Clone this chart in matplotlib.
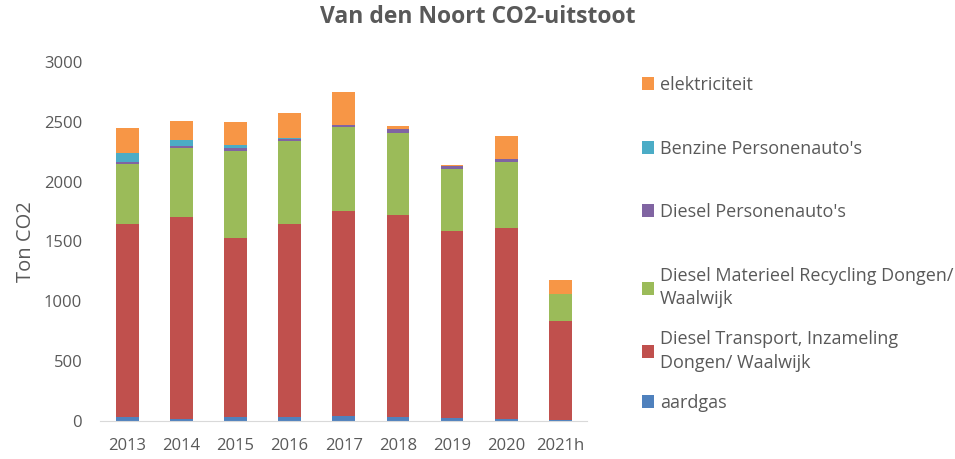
import numpy as np
import matplotlib.pyplot as plt

plt.rcParams['font.family'] = ['Open Sans', 'DejaVu Sans']

years = ['2013', '2014', '2015', '2016', '2017', '2018', '2019', '2020', '2021h']

# Ton CO2 per source
aardgas = [35, 20, 35, 35, 45, 35, 28, 15, 10]
diesel_transport = [1610, 1687, 1495, 1610, 1710, 1690, 1562, 1600, 828]
diesel_materieel = [500, 576, 726, 694, 701, 684, 518, 546, 222]
diesel_auto = [21, 17, 25, 17, 19, 28, 20, 28, 2]
benzine_auto = [70, 45, 27, 8, 2, 3, 0, 3, 0]
elektriciteit = [209, 164, 192, 212, 272, 25, 8, 189, 113]

series = [
    ('aardgas', aardgas, '#4F81BD'),
    ('Diesel Transport, Inzameling\nDongen/ Waalwijk', diesel_transport, '#C0504D'),
    ('Diesel Materieel Recycling Dongen/\nWaalwijk', diesel_materieel, '#9BBB59'),
    ("Diesel Personenauto's", diesel_auto, '#8064A2'),
    ("Benzine Personenauto's", benzine_auto, '#4BACC6'),
    ('elektriciteit', elektriciteit, '#F79646'),
]

txt = '#595959'
fig = plt.figure(figsize=(9.55, 4.59), dpi=100)
ax = fig.add_axes([0.105, 0.083, 0.51, 0.782])

x = np.arange(len(years))
bottom = np.zeros(len(years))
handles = []
for label, vals, col in series:
    b = ax.bar(x, vals, 0.42, bottom=bottom, color=col, label=label)
    handles.append(b)
    bottom += np.array(vals)

ax.set_xlim(-0.5, len(years) - 0.5)
ax.set_ylim(0, 3000)
ax.set_yticks(range(0, 3001, 500))
ax.set_xticks(x)
ax.set_xticklabels(years)
ax.tick_params(length=0, labelsize=12, colors=txt)
ax.tick_params(axis='y', pad=13)
ax.tick_params(axis='x', pad=12)
for s in ['top', 'right', 'left']:
    ax.spines[s].set_visible(False)
ax.spines['bottom'].set_color('#D9D9D9')
ax.set_ylabel('Ton CO2', fontsize=14.5, color=txt, labelpad=6)

fig.suptitle('Van den Noort CO2-uitstoot', x=0.5, y=0.99, fontsize=16.5,
             fontweight='bold', color=txt)

# legend entries placed one by one (Excel spacing is uneven)
leg_y = [403, 351, 287.5, 212, 149, 85]
for (label, vals, col), hnd, yp in zip(series, handles, leg_y):
    lg = fig.legend([hnd], [label], loc='center left',
                    bbox_to_anchor=(0.672, 1 - yp / 459), frameon=False,
                    fontsize=13, handlelength=0.7, handleheight=0.7,
                    handletextpad=0.3, borderpad=0, borderaxespad=0,
                    labelcolor=txt)
    for t in lg.get_texts():
        t.set_linespacing(1.4)

fig.savefig('out.png', dpi=100)
